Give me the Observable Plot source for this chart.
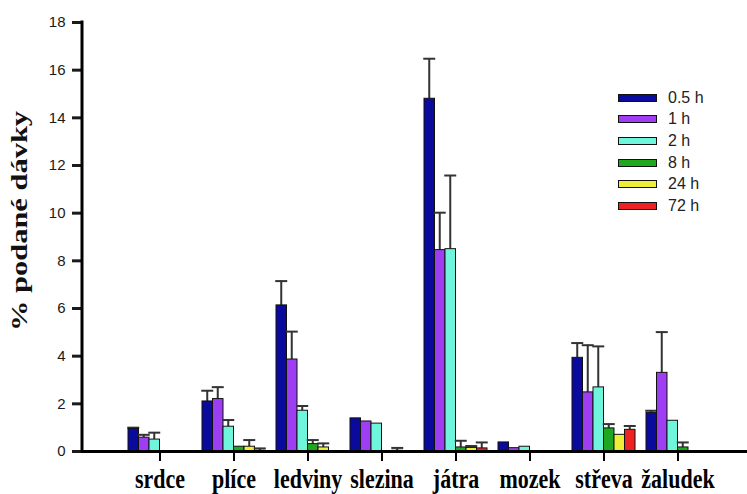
<!DOCTYPE html>
<html>
<head>
<meta charset="utf-8">
<script src="https://cdn.jsdelivr.net/npm/d3@7"></script>
<script src="https://cdn.jsdelivr.net/npm/@observablehq/plot@0.6"></script>
<style>
  html, body { margin: 0; padding: 0; background: white; }
  #wrap { position: relative; width: 747px; height: 494px; overflow: hidden; }
  #legend { position: absolute; left: 618px; top: 87px; font-family: "Liberation Sans", Arial, sans-serif; font-size: 16px; color: #222; }
  .row { height: 21.6px; display: flex; align-items: center; }
  .sw { width: 37px; height: 6px; border: 1px solid #111; margin-right: 11px; }
</style>
</head>
<body>
<div id="wrap"><div id="legend"></div></div>
<script>
const categories = ["srdce", "plíce", "ledviny", "slezina", "játra", "mozek", "střeva", "žaludek"];
const seriesNames = ["0.5 h", "1 h", "2 h", "8 h", "24 h", "72 h"];
const seriesColors = ["#0a0a9c", "#9d3ef2", "#6ef5dc", "#1fa81f", "#eeee36", "#ee2222"];

const values05 = [0.95, 2.10, 6.13, 1.39, 14.80, 0.38, 3.93, 1.62];
const errors05 = [0.05, 0.45, 1.02, 0.00, 1.68, 0.00, 0.62, 0.09];
const values1  = [0.58, 2.20, 3.86, 1.26, 8.45, 0.14, 2.48, 3.30];
const errors1  = [0.12, 0.50, 1.17, 0.00, 1.57, 0.00, 1.98, 1.71];
const values2  = [0.50, 1.04, 1.71, 1.17, 8.49, 0.20, 2.69, 1.29];
const errors2  = [0.29, 0.28, 0.20, 0.00, 3.09, 0.00, 1.72, 0.00];
const values8  = [0.00, 0.20, 0.31, 0.00, 0.17, 0.00, 0.97, 0.17];
const errors8  = [0.00, 0.00, 0.17, 0.00, 0.28, 0.00, 0.18, 0.21];
const values24 = [0.00, 0.20, 0.17, 0.03, 0.15, 0.00, 0.70, 0.00];
const errors24 = [0.00, 0.28, 0.17, 0.12, 0.08, 0.00, 0.00, 0.00];
const values72 = [0.00, 0.03, 0.00, 0.00, 0.13, 0.00, 0.91, 0.00];
const errors72 = [0.00, 0.10, 0.00, 0.00, 0.25, 0.00, 0.16, 0.00];

const yTicks = [0, 2, 4, 6, 8, 10, 12, 14, 16, 18];

const allValues = [values05, values1, values2, values8, values24, values72];
const allErrors = [errors05, errors1, errors2, errors8, errors24, errors72];

// layout constants
const W = 747, H = 494, ML = 82, MT = 22, MB = 43;
const xRange = [ML, 755];
const padIn = 0.153, padOut = 0.6;
const step = (xRange[1] - xRange[0]) / (categories.length - padIn + 2 * padOut);
const bw = step * (1 - padIn);
const nb = seriesNames.length;
const w = bw / nb;

const marks = [];
seriesNames.forEach((name, j) => {
  const rows = categories.map((c, i) => ({cat: c, value: allValues[j][i], err: allErrors[j][i]}))
    .filter(d => d.value > 0);
  const errRows = rows.filter(d => d.err > 0);
  const cx = j * w + w / 2;
  marks.push(Plot.barY(errRows, {
    x: "cat", y1: "value", y2: d => d.value + d.err,
    fill: "#333", insetLeft: cx - 1, insetRight: bw - cx - 1
  }));
  marks.push(Plot.tickY(errRows, {
    x: "cat", y: d => d.value + d.err,
    stroke: "#333", strokeWidth: 2, insetLeft: cx - 6, insetRight: bw - cx - 6
  }));
  marks.push(Plot.barY(rows, {
    x: "cat", y: "value",
    fill: seriesColors[j], stroke: "#111", strokeWidth: 1,
    insetLeft: j * w, insetRight: (nb - 1 - j) * w
  }));
});

const chart = Plot.plot({
  width: W, height: H,
  marginLeft: ML, marginRight: 0, marginTop: MT, marginBottom: MB,
  style: {background: "white", fontFamily: "Liberation Sans, Arial, sans-serif"},
  x: {domain: categories, range: xRange, paddingInner: padIn, paddingOuter: padOut},
  y: {domain: [0, 18]},
  marks: [
    ...marks,
    Plot.ruleY([0], {stroke: "black", strokeWidth: 3}),
    Plot.axisY({ticks: yTicks, tickSize: 10, tickPadding: 7, fontSize: 15, color: "#1a1a1a", strokeWidth: 3, label: null, fontFamily: "Liberation Sans, Arial, sans-serif"}),
    Plot.axisX({tickSize: 10, tickPadding: 8, fontSize: 22, fontWeight: "bold", fontFamily: "Liberation Serif, Times New Roman, serif", color: "black", strokeWidth: 2, label: null})
  ]
});

document.getElementById("wrap").prepend(chart);

const svg = d3.select(chart);
svg.selectAll('g[aria-label="x-axis tick label"] text').each(function() {
  const t = this.getAttribute("transform") || "";
  this.setAttribute("transform", t + " scale(1,1.2)");
});
const ys = chart.scale("y");
svg.append("line")
  .attr("x1", ML).attr("x2", ML)
  .attr("y1", ys.apply(18) - 1.5).attr("y2", ys.apply(0) + 1.5)
  .attr("stroke", "black").attr("stroke-width", 3);
svg.append("text")
  .attr("transform", "translate(27,221) rotate(-90) scale(1.27,1)")
  .attr("text-anchor", "middle")
  .attr("font-family", "Liberation Serif, Times New Roman, serif")
  .attr("font-weight", "bold")
  .attr("font-size", 24)
  .attr("fill", "#111")
  .text("% podané dávky");

const legend = d3.select("#legend");
seriesNames.forEach((name, j) => {
  const row = legend.append("div").attr("class", "row");
  row.append("div").attr("class", "sw").style("background", seriesColors[j]);
  row.append("span").text(name);
});
</script>
</body>
</html>
